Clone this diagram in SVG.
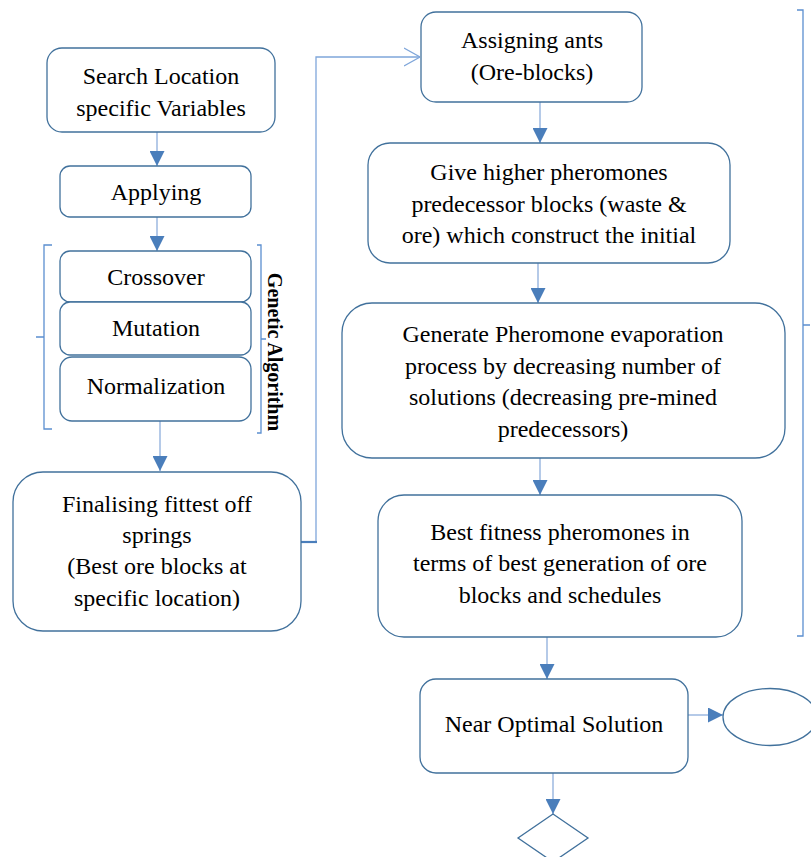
<svg xmlns="http://www.w3.org/2000/svg" width="811" height="857" viewBox="0 0 811 857">
<defs>
<style>
.box{fill:#ffffff;stroke:#41719C;stroke-width:1.3}
.t{font-family:"Liberation Serif","Times New Roman",serif;font-size:24px;fill:#000;text-anchor:middle}
.ga{font-family:"Liberation Serif","Times New Roman",serif;font-size:20px;font-weight:bold;fill:#000;text-anchor:middle}
.ln{fill:none;stroke:#9DB9E0;stroke-width:1.5}
.br{fill:none;stroke:#5B8FD0;stroke-width:1.3}
</style>
<marker id="arr" viewBox="0 0 16 16" refX="16" refY="8" markerWidth="15" markerHeight="15" markerUnits="userSpaceOnUse" orient="auto">
<path d="M0,0 L16,8 L0,16 z" fill="#4A7EBB"/>
</marker>
<marker id="open" viewBox="0 0 16 20" refX="16" refY="10" markerWidth="16" markerHeight="20" markerUnits="userSpaceOnUse" orient="auto">
<path d="M0,1 L16,10 L0,19" fill="none" stroke="#7FA6DA" stroke-width="1.2"/>
</marker>
</defs>
<rect width="811" height="857" fill="#ffffff"/>

<g id="connectors">
<line class="ln" x1="157" y1="132" x2="157" y2="166" marker-end="url(#arr)"/>
<line class="ln" x1="157" y1="217" x2="157" y2="251" marker-end="url(#arr)"/>
<line class="ln" x1="160" y1="421" x2="160" y2="471" marker-end="url(#arr)"/>
<polyline fill="none" stroke="#7FA6DA" stroke-width="1.3" points="316,542 316,57 420,57" marker-end="url(#open)"/>
<line x1="301" y1="542" x2="317" y2="542" stroke="#4A7EBB" stroke-width="2.2"/>
<line class="ln" x1="540" y1="102" x2="540" y2="143" marker-end="url(#arr)"/>
<line class="ln" x1="538" y1="263" x2="538" y2="303" marker-end="url(#arr)"/>
<line class="ln" x1="540" y1="458" x2="540" y2="495" marker-end="url(#arr)"/>
<line class="ln" x1="547" y1="637" x2="547" y2="679" marker-end="url(#arr)"/>
<line class="ln" x1="688" y1="715" x2="723" y2="715" marker-end="url(#arr)"/>
<line class="ln" x1="553" y1="773" x2="553" y2="814" marker-end="url(#arr)"/>
</g>

<g id="brackets">
<path class="br" d="M52,245 L44,245 L44,429 L52,429 M44,337 L36,337"/>
<path class="br" d="M257,245 L261,245 L261,433 L257,433 M261,339 L266,339"/>
<path class="br" d="M797,10 L803,10 L803,636 L797,636 M803,325 L810,325"/>
</g>

<g id="search">
<rect class="box" x="47" y="48" width="228" height="84" rx="15"/>
<text class="t" x="161" y="84">Search Location</text>
<text class="t" x="161" y="116">specific Variables</text>
</g>

<g id="applying">
<rect class="box" x="60" y="166" width="191" height="51" rx="10"/>
<text class="t" x="156" y="200">Applying</text>
</g>

<g id="crossover">
<rect class="box" x="60" y="251" width="191" height="51" rx="10"/>
<text class="t" x="156" y="285">Crossover</text>
</g>

<g id="mutation">
<rect class="box" x="60" y="302" width="191" height="53" rx="10"/>
<text class="t" x="156" y="336">Mutation</text>
</g>

<g id="normalization">
<rect class="box" x="60" y="357" width="191" height="64" rx="12"/>
<text class="t" x="156" y="394">Normalization</text>
</g>

<g id="genetic-label">
<text class="ga" transform="translate(268,352) rotate(90)">Genetic Algorithm</text>
</g>

<g id="finalising">
<rect class="box" x="13" y="472" width="288" height="159" rx="30"/>
<text class="t" x="157" y="512">Finalising fittest off</text>
<text class="t" x="157" y="543">springs</text>
<text class="t" x="157" y="574">(Best ore blocks at</text>
<text class="t" x="157" y="606">specific location)</text>
</g>

<g id="assigning">
<rect class="box" x="421" y="12" width="221" height="90" rx="15"/>
<text class="t" x="532" y="48">Assigning ants</text>
<text class="t" x="532" y="80">(Ore-blocks)</text>
</g>

<g id="give">
<rect class="box" x="368" y="143" width="362" height="120" rx="22"/>
<text class="t" x="549" y="180">Give higher pheromones</text>
<text class="t" x="549" y="212">predecessor blocks (waste &amp;</text>
<text class="t" x="549" y="243">ore) which construct the initial</text>
</g>

<g id="generate">
<rect class="box" x="342" y="303" width="443" height="155" rx="30"/>
<text class="t" x="563" y="342">Generate Pheromone evaporation</text>
<text class="t" x="563" y="374">process by decreasing number of</text>
<text class="t" x="563" y="405">solutions (decreasing pre-mined</text>
<text class="t" x="563" y="437">predecessors)</text>
</g>

<g id="best">
<rect class="box" x="378" y="495" width="364" height="142" rx="26"/>
<text class="t" x="560" y="540">Best fitness pheromones in</text>
<text class="t" x="560" y="571">terms of best generation of ore</text>
<text class="t" x="560" y="603">blocks and schedules</text>
</g>

<g id="near">
<rect class="box" x="420" y="679" width="268" height="94" rx="16"/>
<text class="t" x="554" y="732">Near Optimal Solution</text>
</g>

<g id="ellipse">
<ellipse cx="770" cy="717" rx="47" ry="28.5" fill="#ffffff" stroke="#41719C" stroke-width="1.3"/>
</g>

<g id="diamond">
<polygon points="553,814 588,838 553,862 518,838" fill="#ffffff" stroke="#41719C" stroke-width="1.3"/>
</g>
</svg>
